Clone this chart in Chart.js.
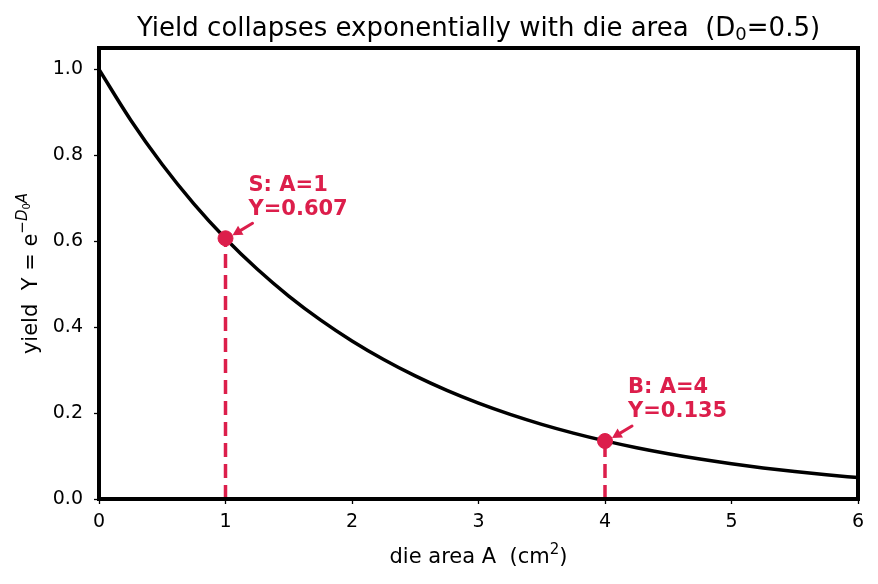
<!DOCTYPE html>
<html><head><meta charset="utf-8">
<script src="https://cdn.jsdelivr.net/npm/chart.js@4/dist/chart.umd.min.js"></script>
<style>html,body{margin:0;padding:0;background:#fff}#wrap{width:878px;height:584px}</style>
</head><body><div id="wrap"><canvas id="c" width="878" height="584"></canvas></div>
<script>
// die area A (cm^2) samples and the yield
const areaVals = [0,0.25,0.5,0.75,1,1.25,1.5,1.75,2,2.25,2.5,2.75,3,3.25,3.5,3.75,4,4.25,4.5,4.75,5,5.25,5.5,5.75,6];
const yieldVals = [1.000,0.8825,0.7788,0.6873,0.6065,0.5353,0.4724,0.4169,0.3679,0.3247,0.2865,0.2528,0.2231,0.1969,0.1738,0.1534,0.1353,0.1194,0.1054,0.0930,0.0821,0.0724,0.0639,0.0564,0.0498];
// highlighted designs
const markNames = ["S","B"];
const markArea = [1,4];
const markYield = [0.607,0.135];
const xTicks = [0,1,2,3,4,5,6];
const yTicks = [0,0.2,0.4,0.6,0.8,1.0];

const RED = '#DC1E4B';
const FONT = "'DejaVu Sans', sans-serif";

const datasets = [{
  label:'yield', data: areaVals.map((a,i)=>({x:a,y:yieldVals[i]})),
  borderColor:'#000', borderWidth:3.5, pointRadius:0, cubicInterpolationMode:'monotone', fill:false, order:3
}];
markArea.forEach((a,i)=>{
  datasets.push({label:markNames[i]+' drop', data:[{x:a,y:0},{x:a,y:markYield[i]}],
    borderColor:RED, borderWidth:3.5, borderDash:[14,7], pointRadius:0, fill:false, order:2});
});
datasets.push({label:'marks', type:'scatter', data: markArea.map((a,i)=>({x:a,y:markYield[i]})),
  backgroundColor:RED, borderColor:RED, pointRadius:7.5, pointHoverRadius:7.5, order:1});

function drawParts(ctx, parts, cx, by){
  let tw=0; parts.forEach(p=>{ctx.font=p.f; p.w=ctx.measureText(p.t).width; tw+=p.w;});
  let x0=cx-tw/2;
  parts.forEach(p=>{ctx.font=p.f; ctx.fillText(p.t,x0,by+p.dy); x0+=p.w;});
}

const deco = {
  id:'deco',
  afterDatasetsDraw(chart){
    const {ctx, chartArea:ca, scales:{x,y}} = chart;
    ctx.save();
    // annotations
    markArea.forEach((a,i)=>{
      const px = x.getPixelForValue(a), py = y.getPixelForValue(markYield[i]);
      ctx.fillStyle = RED; ctx.font = "bold 21px "+FONT; ctx.textBaseline='middle'; ctx.textAlign='left';
      ctx.fillText(markNames[i]+': A='+a, px+23, py-53);
      ctx.fillText('Y='+markYield[i].toFixed(3), px+23, py-29);
      // arrow
      const x0=px+27, y0=py-15, x1=px+7, y1=py-3;
      ctx.strokeStyle=RED; ctx.lineWidth=3; ctx.lineCap='round';
      ctx.beginPath(); ctx.moveTo(x0,y0); ctx.lineTo(x1+4,y1-2.4); ctx.stroke();
      const ang = Math.atan2(y1-y0,x1-x0), L=11, w=0.5;
      ctx.beginPath(); ctx.moveTo(x1,y1);
      ctx.lineTo(x1-L*Math.cos(ang-w), y1-L*Math.sin(ang-w));
      ctx.lineTo(x1-L*Math.cos(ang+w), y1-L*Math.sin(ang+w));
      ctx.closePath(); ctx.fill();
    });
    // frame
    ctx.strokeStyle='#000'; ctx.lineWidth=4; ctx.lineCap='butt';
    ctx.strokeRect(ca.left, ca.top, ca.right-ca.left, ca.bottom-ca.top);
    ctx.fillStyle='#000'; ctx.textAlign='left'; ctx.textBaseline='alphabetic';
    const mid = (ca.left+ca.right)/2;
    // title
    drawParts(ctx, [
      {t:'Yield collapses exponentially with die area  (D', f:"26px "+FONT, dy:0},
      {t:'0', f:"18px "+FONT, dy:4},
      {t:'=0.5)', f:"26px "+FONT, dy:0}
    ], mid, 36);
    // x title
    drawParts(ctx, [
      {t:'die area A  (cm', f:"21px "+FONT, dy:0},
      {t:'2', f:"15px "+FONT, dy:-9},
      {t:')', f:"21px "+FONT, dy:0}
    ], mid, 563);
    // y title (rotated)
    ctx.translate(37, (ca.top+ca.bottom)/2); ctx.rotate(-Math.PI/2);
    drawParts(ctx, [
      {t:'yield  Y = e', f:"21px "+FONT, dy:0},
      {t:'\u2212', f:"15px "+FONT, dy:-10},
      {t:'D', f:"italic 15px "+FONT, dy:-10},
      {t:'0', f:"10px "+FONT, dy:-7},
      {t:'A', f:"italic 15px "+FONT, dy:-10}
    ], 0, 0);
    ctx.restore();
  }
};

new Chart(document.getElementById('c'), {
  type:'line',
  data:{datasets},
  options:{
    responsive:false, animation:false, devicePixelRatio:1,
    layout:{padding:{left:0,right:20,top:48,bottom:0}},
    plugins:{ legend:{display:false}, tooltip:{enabled:false}, title:{display:false} },
    scales:{
      x:{type:'linear', min:0, max:6,
        afterBuildTicks:s=>{s.ticks=xTicks.map(v=>({value:v}));},
        afterFit:s=>{s.height=85;},
        grid:{drawOnChartArea:false, drawTicks:true, tickLength:5, color:'#000', tickWidth:1.3},
        border:{display:false},
        ticks:{color:'#000', font:{family:FONT,size:19}, padding:7, maxRotation:0, callback:v=>String(v)}
      },
      y:{type:'linear', min:0, max:1.05,
        afterBuildTicks:s=>{s.ticks=yTicks.map(v=>({value:v}));},
        afterFit:s=>{s.width=99;},
        grid:{drawOnChartArea:false, drawTicks:true, tickLength:5, color:'#000', tickWidth:1.3},
        border:{display:false},
        ticks:{color:'#000', font:{family:FONT,size:19}, padding:11, callback:v=>Number(v).toFixed(1)}
      }
    }
  },
  plugins:[deco]
});
</script></body></html>
